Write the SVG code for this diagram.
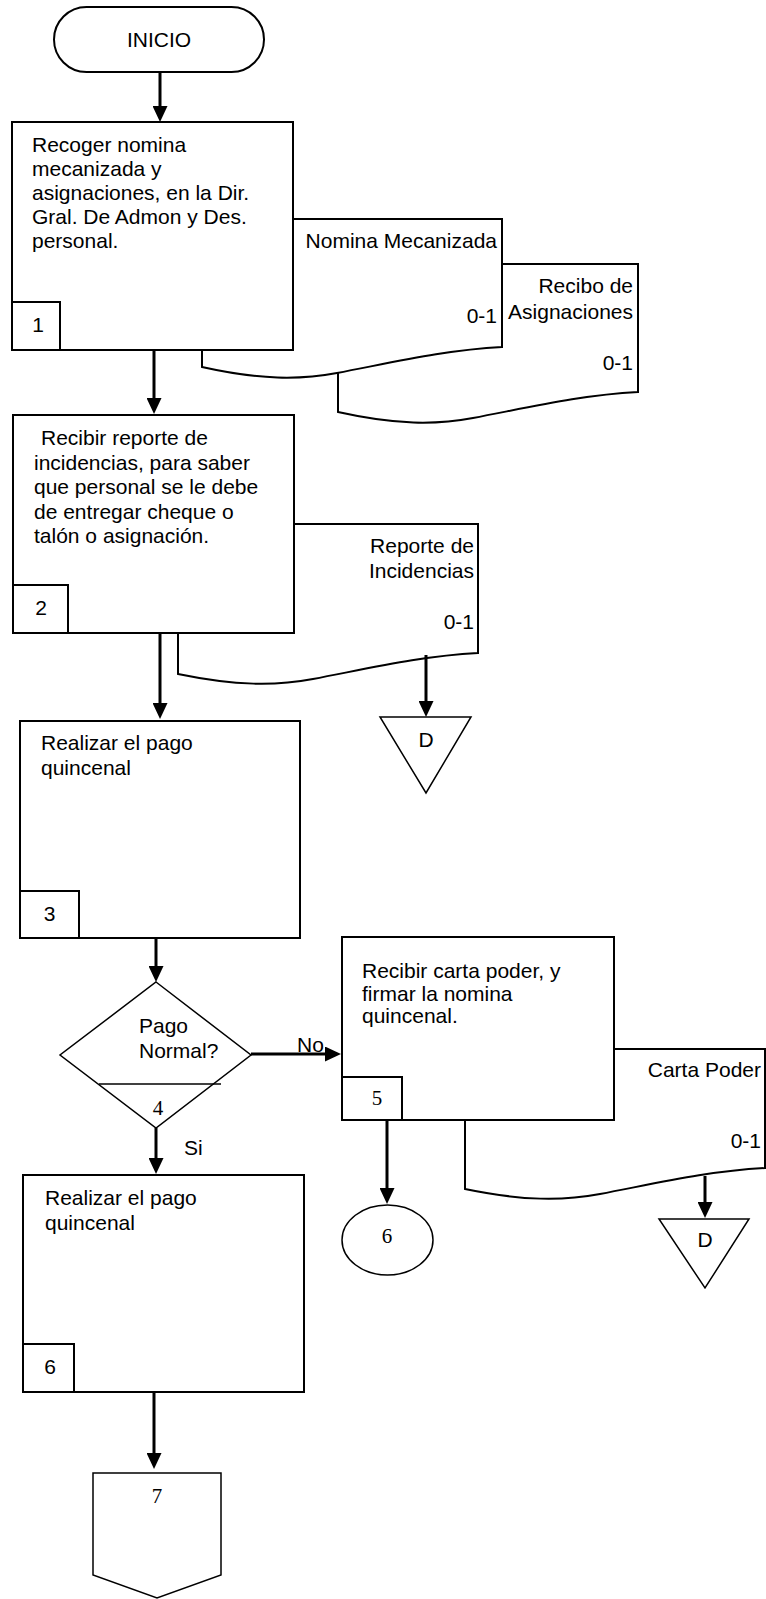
<svg xmlns="http://www.w3.org/2000/svg" width="766" height="1599" viewBox="0 0 766 1599">
  <style>
    .box { fill: #fff; stroke: #000; stroke-width: 2; }
    .thin { fill: #fff; stroke: #000; stroke-width: 1.5; }
    .flow { stroke: #000; stroke-width: 3; fill: none; marker-end: url(#ah); }
    .t { font-family: "Liberation Sans", Arial, sans-serif; font-size: 21px; fill: #000; }
    .s { font-family: "Liberation Serif", "Times New Roman", serif; font-size: 21px; fill: #000; }
    .c { text-anchor: middle; }
    .e { text-anchor: end; }
  </style>
  <defs>
    <marker id="ah" markerUnits="userSpaceOnUse" markerWidth="16" markerHeight="15" refX="8" refY="7.5" orient="auto">
      <path d="M0,0 L16,7.5 L0,15 Z" fill="#000"/>
    </marker>
  </defs>
  <rect width="766" height="1599" fill="#fff"/>

  <!-- documents (drawn first so the process boxes overlap them) -->
  <g id="doc-asignaciones">
    <path class="box" d="M338,264 H638 V392 C581,395 531,407 473,418 C436,425 396,425 338,412 Z"/>
    <text class="t e" x="633" y="293">Recibo de</text>
    <text class="t e" x="633" y="319">Asignaciones</text>
    <text class="t e" x="633" y="370">0-1</text>
  </g>
  <g id="doc-nomina">
    <path class="box" d="M202,219 H502 V347 C445,350 395,362 337,373 C300,380 260,380 202,367 Z"/>
    <text class="t e" x="497" y="248">Nomina Mecanizada</text>
    <text class="t e" x="497" y="323">0-1</text>
  </g>
  <g id="doc-incidencias">
    <path class="box" d="M178,524 H478 V653 C421,656 371,668 313,679 C276,686 236,686 178,674 Z"/>
    <text class="t e" x="474" y="553">Reporte de</text>
    <text class="t e" x="474" y="578">Incidencias</text>
    <text class="t e" x="474" y="629">0-1</text>
  </g>
  <g id="doc-carta">
    <path class="box" d="M465,1049 H765 V1168 C708,1171 658,1183 600,1194 C563,1201 523,1201 465,1189 Z"/>
    <text class="t e" x="761" y="1077">Carta Poder</text>
    <text class="t e" x="761" y="1148">0-1</text>
  </g>

  <!-- start terminal -->
  <g id="inicio">
    <rect class="box" x="54" y="7" width="210" height="65" rx="32.5"/>
    <text class="t c" x="159" y="47">INICIO</text>
  </g>

  <!-- step 1 -->
  <g id="step1">
    <rect class="box" x="12" y="122" width="281" height="228"/>
    <rect class="box" x="12" y="302" width="48" height="48"/>
    <text class="t c" x="38" y="332">1</text>
    <text class="t" x="32" y="152">Recoger nomina</text>
    <text class="t" x="32" y="176">mecanizada y</text>
    <text class="t" x="32" y="200">asignaciones, en la Dir.</text>
    <text class="t" x="32" y="224">Gral. De Admon y Des.</text>
    <text class="t" x="32" y="248">personal.</text>
  </g>

  <!-- step 2 -->
  <g id="step2">
    <rect class="box" x="13" y="415" width="281" height="218"/>
    <rect class="box" x="13" y="585" width="55" height="48"/>
    <text class="t c" x="41" y="615">2</text>
    <text class="t" x="41" y="445">Recibir reporte de</text>
    <text class="t" x="34" y="469.5">incidencias, para saber</text>
    <text class="t" x="34" y="494">que personal se le debe</text>
    <text class="t" x="34" y="518.5">de entregar cheque o</text>
    <text class="t" x="34" y="543">talón o asignación.</text>
  </g>

  <!-- step 3 -->
  <g id="step3">
    <rect class="box" x="20" y="721" width="280" height="217"/>
    <rect class="box" x="20" y="891" width="59" height="47"/>
    <text class="t c" x="49.5" y="921">3</text>
    <text class="t" x="41" y="750">Realizar el pago</text>
    <text class="t" x="41" y="775">quincenal</text>
  </g>

  <!-- file D after step 2 -->
  <g id="archive1">
    <polygon class="thin" points="380,717 471,717 426,793"/>
    <text class="t c" x="426" y="747">D</text>
  </g>

  <!-- decision 4 -->
  <g id="decision4">
    <polygon class="thin" points="156,982 251,1055 156,1128 60,1055"/>
    <line x1="99" y1="1084" x2="221" y2="1084" stroke="#000" stroke-width="1.5"/>
    <text class="t" x="139" y="1033">Pago</text>
    <text class="t" x="139" y="1058">Normal?</text>
    <text class="s c" x="158" y="1115">4</text>
  </g>

  <!-- step 5 -->
  <g id="step5">
    <rect class="box" x="342" y="937" width="272" height="183"/>
    <rect class="box" x="342" y="1077" width="60" height="43"/>
    <text class="s c" x="377" y="1105">5</text>
    <text class="t" x="362" y="978">Recibir carta poder, y</text>
    <text class="t" x="362" y="1000.5">firmar la nomina</text>
    <text class="t" x="362" y="1023">quincenal.</text>
  </g>

  <!-- connector to 6 -->
  <g id="link6">
    <ellipse class="thin" cx="387.5" cy="1240" rx="45.5" ry="35"/>
    <text class="s c" x="387" y="1243">6</text>
  </g>

  <!-- file D after step 5 -->
  <g id="archive2">
    <polygon class="thin" points="659,1219 749,1219 705,1288"/>
    <text class="t c" x="705" y="1247">D</text>
  </g>

  <!-- step 6 -->
  <g id="step6">
    <rect class="box" x="23" y="1175" width="281" height="217"/>
    <rect class="box" x="23" y="1344" width="51" height="48"/>
    <text class="t c" x="50" y="1374">6</text>
    <text class="t" x="45" y="1205">Realizar el pago</text>
    <text class="t" x="45" y="1229.5">quincenal</text>
  </g>

  <!-- off-page connector 7 -->
  <g id="page7">
    <polygon class="thin" points="93,1473 221,1473 221,1575 157,1598 93,1575"/>
    <text class="s c" x="157" y="1503">7</text>
  </g>

  <!-- flow lines -->
  <g id="connectors">
    <line class="flow" x1="160" y1="72" x2="160" y2="114"/>
    <line class="flow" x1="154" y1="350" x2="154" y2="406"/>
    <line class="flow" x1="160" y1="633" x2="160" y2="711"/>
    <line class="flow" x1="426" y1="655" x2="426" y2="709"/>
    <line class="flow" x1="156" y1="938" x2="156" y2="974"/>
    <line class="flow" x1="251" y1="1054" x2="333" y2="1054"/>
    <line class="flow" x1="156" y1="1128" x2="156" y2="1166"/>
    <line class="flow" x1="387" y1="1120" x2="387" y2="1196"/>
    <line class="flow" x1="705" y1="1176" x2="705" y2="1210"/>
    <line class="flow" x1="154" y1="1392" x2="154" y2="1461"/>
    <text class="t" x="297" y="1052">No</text>
    <text class="t" x="184" y="1155">Si</text>
  </g>
</svg>
